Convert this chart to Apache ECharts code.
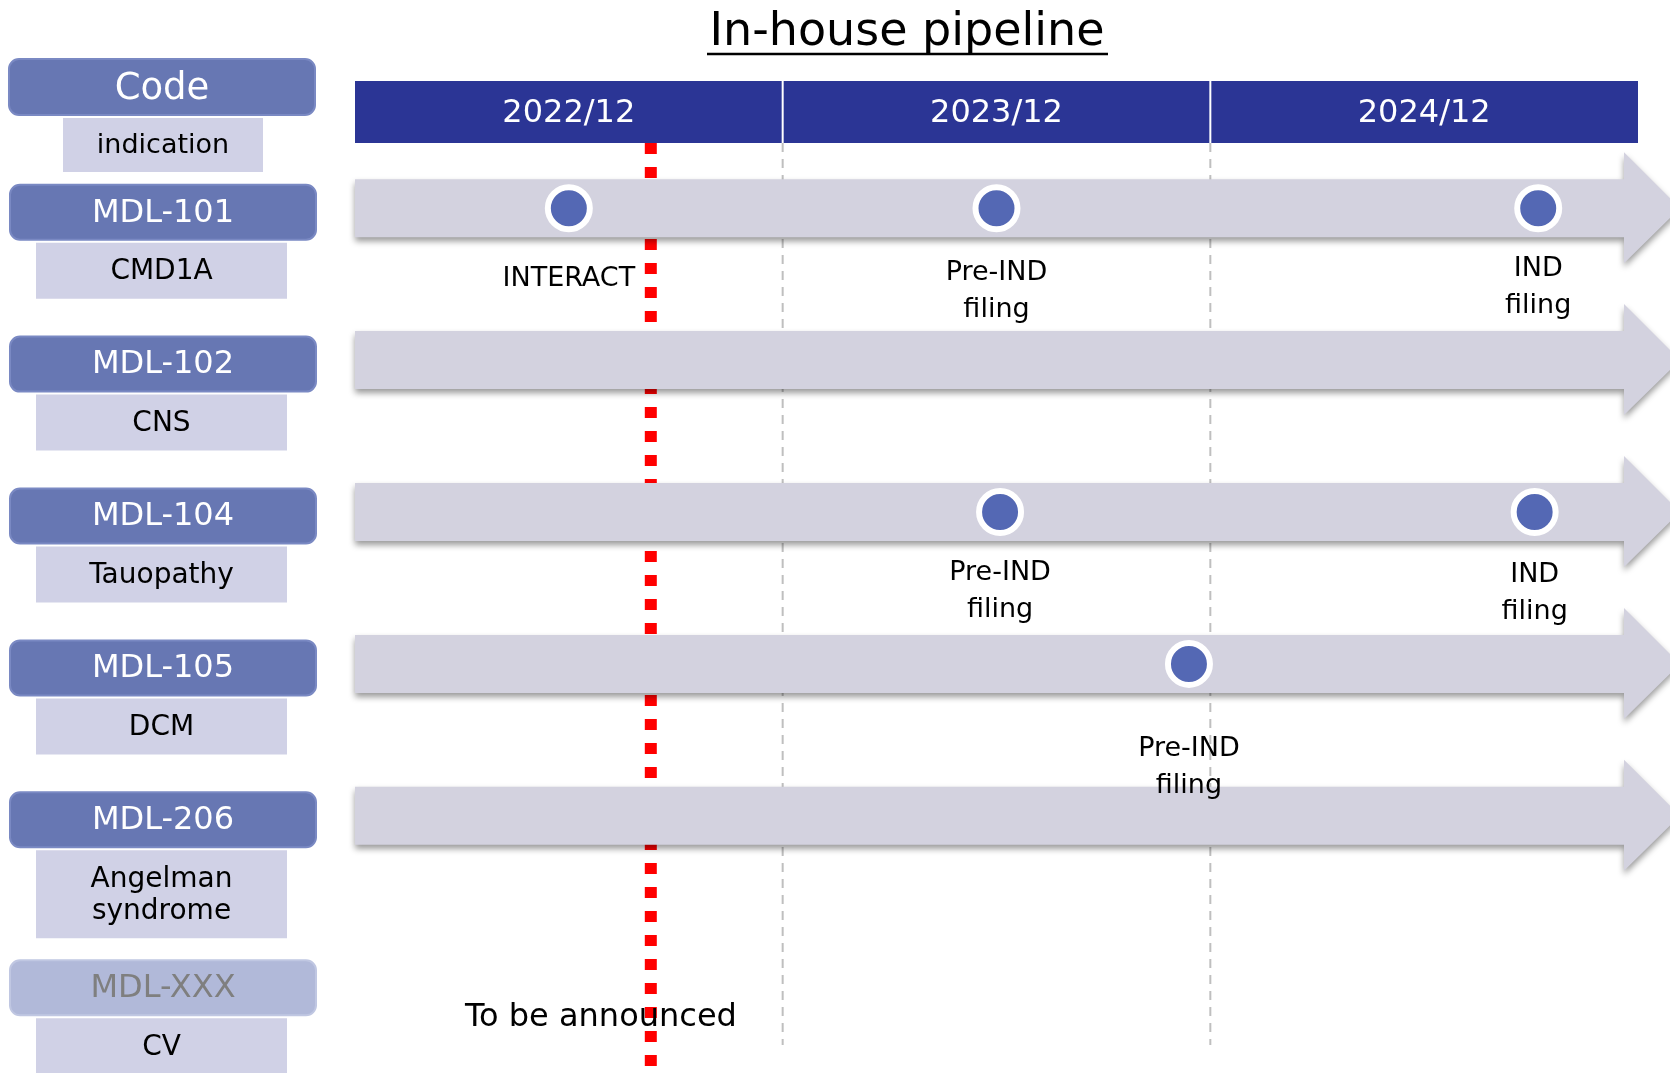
<!DOCTYPE html>
<html>
<head>
<meta charset="utf-8">
<script src="https://cdn.jsdelivr.net/npm/echarts@6/dist/echarts.min.js"></script>
<style>
  html, body { margin: 0; padding: 0; background: #ffffff; }
  #main { width: 1670px; height: 1073px; }
</style>
</head>
<body>
<div id="main"></div>
<script>
// ---------------- data ----------------
const chartTitle = 'In-house pipeline';
const headerCode = 'Code';
const headerIndication = 'indication';
const periods = ['2022/12', '2023/12', '2024/12'];      // column (tick) labels
const monthsPerPeriod = 12;
const products = ['MDL-101', 'MDL-102', 'MDL-104', 'MDL-105', 'MDL-206', 'MDL-XXX'];
const indications = ['CMD1A', 'CNS', 'Tauopathy', 'DCM', 'Angelman\nsyndrome', 'CV'];
const inPipeline = [1, 1, 1, 1, 1, 0];
const msProduct = ['MDL-101', 'MDL-101', 'MDL-101', 'MDL-104', 'MDL-104', 'MDL-105'];
const msMonth = [6.0, 18.0, 33.2, 18.1, 33.1, 23.4];
const msLabel = ['INTERACT', 'Pre-IND\nfiling', 'IND\nfiling', 'Pre-IND\nfiling', 'IND\nfiling', 'Pre-IND\nfiling'];
const todayMonth = 8.3;
const tbaProduct = 'MDL-XXX';
const tbaMonth = 6.9;
const tbaText = 'To be announced';

// ---------------- layout (not data) ----------------
const FONT = '"DejaVu Sans", sans-serif';
const msLabelDy = [70.8, 83.3, 78.8, 79.6, 81.1, 103.5];
const HEADER_TOP = 81, HEADER_BOTTOM = 143;
const CODE_H = 55, IND_H1 = 56, IND_H2 = 88, BOX_GAP = 3, MIN_ROW_GAP = 22;
const totalMonths = periods.length * monthsPerPeriod;

const chart = echarts.init(document.getElementById('main'), null, { renderer: 'canvas' });

// left-panel stacking: code box centred near the row, pushed down if the previous
// (taller) indication box would come too close
function panelTops(api) {
  const tops = [];
  for (let i = 0; i < products.length; i++) {
    const yc = api.coord([0, i])[1];
    let top = yc + 4 - CODE_H / 2;
    if (i > 0) {
      const prevLines = indications[i - 1].split('\n').length;
      const prevBottom = tops[i - 1] + CODE_H + BOX_GAP + (prevLines > 1 ? IND_H2 : IND_H1);
      top = Math.max(top, prevBottom + MIN_ROW_GAP);
    }
    tops.push(top);
  }
  return tops;
}

const option = {
  animation: false,
  backgroundColor: '#ffffff',
  grid: { left: 355, right: 32, top: 132.25, bottom: 29.35 },
  xAxis: { type: 'value', min: 0, max: totalMonths, interval: monthsPerPeriod, show: false },
  yAxis: { type: 'category', data: products, inverse: true, show: false },
  graphic: [
    { type: 'text', x: 907, y: 33, z: 10,
      style: { text: chartTitle, font: '46px ' + FONT, fill: '#000', align: 'center', verticalAlign: 'middle' } },
    { type: 'line', z: 10, shape: { x1: 707, y1: 54, x2: 1108, y2: 54 }, style: { stroke: '#000', lineWidth: 2.5 } },
    { type: 'rect', z: 10, shape: { x: 9, y: 59, width: 306, height: 56, r: 10 },
      style: { fill: '#6777B3', stroke: '#7A89C3', lineWidth: 2 } },
    { type: 'text', z: 11, x: 162, y: 89,
      style: { text: headerCode, font: '37px ' + FONT, fill: '#ffffff', align: 'center', verticalAlign: 'middle' } },
    { type: 'rect', z: 10, shape: { x: 63, y: 118, width: 200, height: 54 }, style: { fill: '#D0D1E6' } },
    { type: 'text', z: 11, x: 163, y: 146,
      style: { text: headerIndication, font: '27px ' + FONT, fill: '#000', align: 'center', verticalAlign: 'middle' } }
  ],
  series: [
    // dashed boundary lines between periods
    {
      type: 'custom', z: 1, silent: true,
      data: periods.slice(1).map((p, i) => [(i + 1) * monthsPerPeriod, 0]),
      renderItem: (params, api) => {
        const x = api.coord([api.value(0), 0])[0];
        return { type: 'line', shape: { x1: x, y1: HEADER_BOTTOM, x2: x, y2: 1045 },
          style: { stroke: '#BFBFBF', lineWidth: 2, lineDash: [9, 7] } };
      }
    },
    // today (red dotted) line
    {
      type: 'custom', z: 2, silent: true,
      data: [[todayMonth, 0]],
      renderItem: (params, api) => {
        const x = api.coord([api.value(0), 0])[0];
        return { type: 'line', shape: { x1: x, y1: HEADER_BOTTOM, x2: x, y2: 1073 },
          style: { stroke: '#FF0000', lineWidth: 12, lineDash: [11, 13] } };
      }
    },
    // arrows
    {
      type: 'custom', z: 3, silent: true,
      data: products.map((p, i) => [0, i]).filter((d, i) => inPipeline[i]),
      renderItem: (params, api) => {
        const row = api.value(1);
        const p0 = api.coord([0, row]);
        const xe = api.coord([totalMonths, row])[0];
        const yc = p0[1], x0 = p0[0];
        const hx = xe - 14, tip = hx + 56;
        return {
          type: 'polygon',
          shape: { points: [[x0, yc - 29], [hx, yc - 29], [hx, yc - 56], [tip, yc], [hx, yc + 55], [hx, yc + 29], [x0, yc + 29]] },
          style: { fill: '#D3D2DF', shadowColor: 'rgba(0,0,0,0.4)', shadowBlur: 6, shadowOffsetY: 4, shadowOffsetX: 0 }
        };
      }
    },
    // header band with period labels
    {
      type: 'custom', z: 4, silent: true,
      data: periods.map((p, i) => [i * monthsPerPeriod, 0]),
      renderItem: (params, api) => {
        const v = api.value(0);
        const x0 = api.coord([v, 0])[0];
        const x1 = api.coord([v + monthsPerPeriod, 0])[0];
        const children = [
          { type: 'rect', shape: { x: x0, y: HEADER_TOP, width: x1 - x0, height: HEADER_BOTTOM - HEADER_TOP },
            style: { fill: '#2B3595' } },
          { type: 'text', style: { x: (x0 + x1) / 2, y: (HEADER_TOP + HEADER_BOTTOM) / 2 + 2, text: periods[params.dataIndex],
            font: '32px ' + FONT, fill: '#ffffff', align: 'center', verticalAlign: 'middle' } }
        ];
        if (params.dataIndex > 0) {
          children.push({ type: 'line', shape: { x1: x0, y1: HEADER_TOP, x2: x0, y2: HEADER_BOTTOM },
            style: { stroke: '#ffffff', lineWidth: 2 } });
        }
        return { type: 'group', children };
      }
    },
    // left panel: product code + indication
    {
      type: 'custom', z: 4, silent: true,
      data: products.map((p, i) => [0, i]),
      renderItem: (params, api) => {
        const i = params.dataIndex;
        const tops = panelTops(api);
        const active = inPipeline[i];
        const bTop = tops[i];
        const lines = indications[i].split('\n').length;
        const iTop = bTop + CODE_H + BOX_GAP;
        const iH = lines > 1 ? IND_H2 : IND_H1;
        return {
          type: 'group',
          children: [
            { type: 'rect', shape: { x: 10, y: bTop, width: 306, height: CODE_H, r: 10 },
              style: { fill: active ? '#6777B3' : '#B1B9D9', stroke: active ? '#7A89C3' : '#C0C7E2', lineWidth: 2 } },
            { type: 'text', style: { x: 163, y: bTop + 28.5, text: products[i], font: '32px ' + FONT,
              fill: active ? '#ffffff' : '#7F7F7F', align: 'center', verticalAlign: 'middle' } },
            { type: 'rect', shape: { x: 36, y: iTop, width: 251, height: iH }, style: { fill: '#D0D1E6' } },
            { type: 'text', style: { x: 161.5, y: iTop + iH / 2 + 1, text: indications[i], font: '28px ' + FONT,
              lineHeight: 32, fill: '#000', align: 'center', verticalAlign: 'middle' } }
          ]
        };
      }
    },
    // milestones
    {
      type: 'scatter', z: 5, silent: true,
      symbol: 'circle', symbolSize: 42,
      itemStyle: { color: '#5468B4', borderColor: '#ffffff', borderWidth: 6, opacity: 1 },
      label: {
        show: true, position: 'inside', color: '#000', fontSize: 27, fontFamily: 'DejaVu Sans',
        lineHeight: 37, textBorderWidth: 0,
        formatter: (p) => msLabel[p.dataIndex]
      },
      data: msMonth.map((m, i) => ({ value: [m, msProduct[i]], label: { offset: [0, msLabelDy[i]] } }))
    },
    // "To be announced"
    {
      type: 'custom', z: 6, silent: true,
      data: [[tbaMonth, products.indexOf(tbaProduct)]],
      renderItem: (params, api) => {
        const c = api.coord([api.value(0), api.value(1)]);
        return { type: 'text', style: { x: c[0], y: c[1] + 50.3, text: tbaText, font: '32px ' + FONT,
          fill: '#000', align: 'center', verticalAlign: 'middle' } };
      }
    }
  ]
};

chart.setOption(option);
</script>
</body>
</html>
